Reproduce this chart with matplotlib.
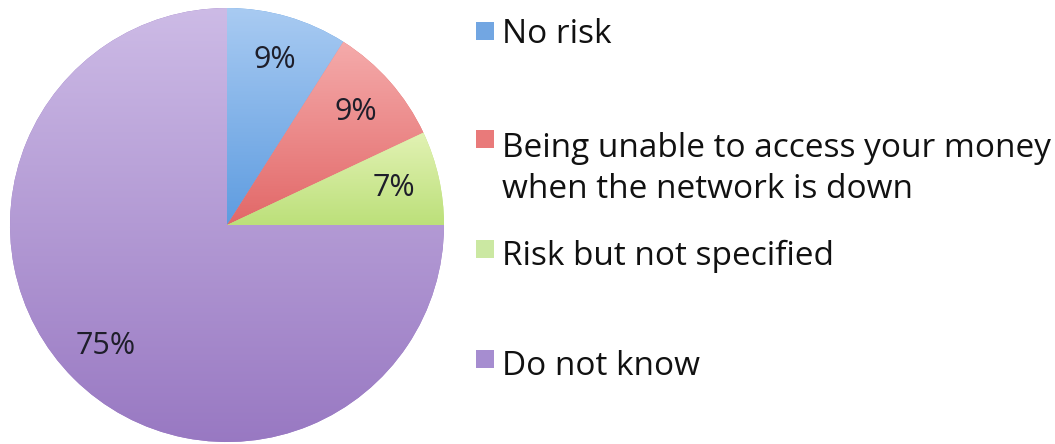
import numpy as np
import matplotlib
matplotlib.use("Agg")
import matplotlib.pyplot as plt
from matplotlib.colors import LinearSegmentedColormap
from matplotlib.patches import Rectangle

plt.rcParams['font.family'] = ['Open Sans', 'DejaVu Sans']

categories = ["No risk",
              "Being unable to access your money\nwhen the network is down",
              "Risk but not specified",
              "Do not know"]
shares = [9, 9, 7, 75]
top_colors = ["#A9CBF2", "#F5ABAB", "#E2F2B4", "#CDBBE6"]
bottom_colors = ["#5E9CE0", "#E26868", "#BCE07A", "#9878C2"]
legend_colors = ["#72A6E2", "#E97A7A", "#CBE8A2", "#A68DD0"]
text_baseline = [43, 198, 265, 375]  # px from top, baseline of last line
square_center = [31, 139, 249, 359]

W, H = 1055, 444
fig = plt.figure(figsize=(W / 100, H / 100), dpi=100)

# pie axes: centre (227, 225), radius ~217 px
r_px = 217
cx, cy = 227, 225
ax = fig.add_axes([(cx - r_px) / W, (H - cy - r_px) / H, 2 * r_px / W, 2 * r_px / H])
wedges, texts, autotexts = ax.pie(
    shares, startangle=90, counterclock=False, colors=bottom_colors,
    autopct=lambda p: f"{p:.0f}%", pctdistance=0.79, radius=1.0,
    wedgeprops=dict(linewidth=0),
    textprops=dict(fontsize=22, color="#1E1E2A"))
ax.set_xlim(-1, 1)
ax.set_ylim(-1, 1)
ax.set_aspect('auto')
ax.axis('off')

# vertical gradient inside every wedge
for w, c0, c1 in zip(wedges, top_colors, bottom_colors):
    pts = w.get_patch_transform().transform(w.get_path().vertices)
    ymin, ymax = pts[:, 1].min(), pts[:, 1].max()
    cmap = LinearSegmentedColormap.from_list("g", [c1, c0])
    grad = np.linspace(0, 1, 256).reshape(-1, 1)
    im = ax.imshow(grad, cmap=cmap, origin='lower', aspect='auto',
                   extent=[-1, 1, ymin, ymax], zorder=1)
    im.set_clip_path(w)
    w.set_zorder(0)
for t in autotexts:
    t.set_zorder(3)

# legend drawn by hand to match layout
sq = 18
for name, col, yb, ys in zip(categories, legend_colors, text_baseline, square_center):
    fig.patches.append(Rectangle(((485 - sq / 2) / W, (H - ys - sq / 2) / H), sq / W, sq / H,
                                 transform=fig.transFigure, facecolor=col, edgecolor='none'))
    fig.text(502 / W, (H - yb) / H, name, fontsize=24, color="#111111",
             va='baseline', ha='left', linespacing=1.33)

fig.savefig("out.png", dpi=100, facecolor="white")
